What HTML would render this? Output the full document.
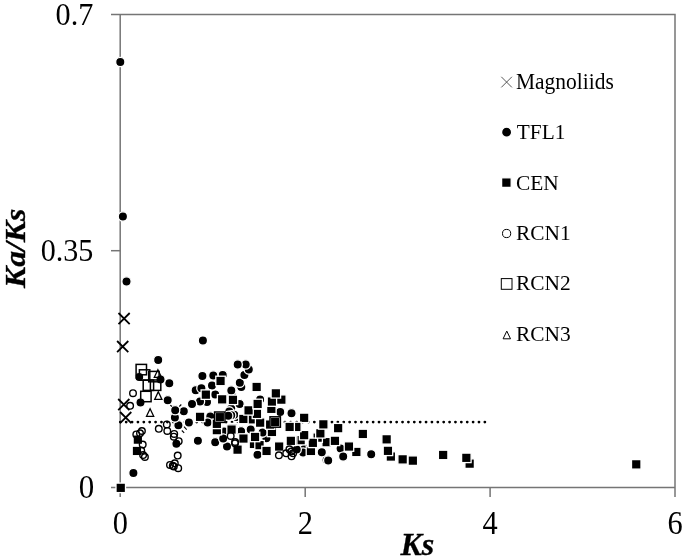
<!DOCTYPE html>
<html><head><meta charset="utf-8"><title>Ka/Ks vs Ks</title>
<style>
html,body{margin:0;padding:0;background:#fff;}
svg{display:block;font-family:"Liberation Serif",serif;}
</style></head><body>
<svg width="685" height="558" viewBox="0 0 685 558">
<rect width="685" height="558" fill="#fff"/>
<g stroke="#757575" stroke-width="1.5" fill="none">
<path d="M111 14.5H675V497"/>
<path d="M120.2 14.5V497"/>
<path d="M111 487.6H675"/>
<path d="M111 250.7H120.2"/>
<path d="M305.2 487.6V497M490.1 487.6V497"/>
</g>
<g font-size="29.5" fill="#000">
<text transform="translate(93.4,24.5) scale(1.025,1.09)" text-anchor="end">0.7</text>
<text transform="translate(93.3,261.2) scale(1.02,1.085)" text-anchor="end">0.35</text>
<text transform="translate(94.3,497.9) scale(1.05,1.115)" text-anchor="end">0</text>
<text transform="translate(120.3,534.2) scale(1.03,1.11)" text-anchor="middle">0</text>
<text transform="translate(305.3,534.2) scale(1.03,1.11)" text-anchor="middle">2</text>
<text transform="translate(490.2,534.2) scale(1.03,1.11)" text-anchor="middle">4</text>
<text transform="translate(675.2,534.2) scale(1.03,1.11)" text-anchor="middle">6</text>
</g>
<text x="417.3" y="554.8" stroke="#000" stroke-width="0.3" font-size="32" font-weight="bold" font-style="italic" text-anchor="middle">Ks</text>
<text transform="translate(24.6,248.3) rotate(-90) scale(0.99,0.9)" stroke="#000" stroke-width="0.4" font-size="32" font-weight="bold" font-style="italic" text-anchor="middle">Ka/Ks</text>
<path d="M120.3 422.1H486" stroke="#000" stroke-width="2.8" stroke-linecap="round" stroke-dasharray="0 5.88" fill="none"/>

<g font-size="21.3" fill="#000">
<text transform="translate(516,88.9) scale(1.008,1.04)">Magnoliids</text>
<text transform="translate(516.8,139.4) scale(1,1.03)">TFL1</text>
<text transform="translate(516,189.5) scale(1.005,1.03)">CEN</text>
<text transform="translate(516,239.9) scale(1.005,1.02)">RCN1</text>
<text transform="translate(516,290.4) scale(1.005,1.0)">RCN2</text>
<text transform="translate(516,341) scale(1.005,1.0)">RCN3</text>
</g>

<path d="M501.3 76.8L511.9 87.4M501.3 87.4L511.9 76.8" stroke="#444" stroke-width="0.9" fill="none"/>
<circle cx="506.6" cy="132.2" r="5.05" fill="#000" stroke="#fff" stroke-width="1.3"/>
<rect x="501.6" y="177.8" width="9.6" height="9.6" fill="#000" stroke="#fff" stroke-width="1.3"/>
<circle cx="506.6" cy="233.5" r="4.1" fill="none" stroke="#000" stroke-width="1.0"/>
<rect x="501.3" y="278.6" width="10.7" height="10.7" fill="none" stroke="#000" stroke-width="1.0"/>
<path d="M506.8 331.1L510.5 338.8H503.1Z" fill="none" stroke="#000" stroke-width="1.0"/>
<path d="M118.5 313.0L129.7 324.2M118.5 324.2L129.7 313.0" stroke="#000" stroke-width="1.8" fill="none"/>
<path d="M117.1 341.0L128.3 352.2M117.1 352.2L128.3 341.0" stroke="#000" stroke-width="1.8" fill="none"/>
<path d="M118.2 399.0L129.4 410.2M118.2 410.2L129.4 399.0" stroke="#000" stroke-width="1.8" fill="none"/>
<path d="M120.1 412.0L131.3 423.2M120.1 423.2L131.3 412.0" stroke="#000" stroke-width="1.8" fill="none"/>
<circle cx="231.6" cy="394.0" r="4.65" fill="#000" stroke="#fff" stroke-width="1.3"/>
<circle cx="231.2" cy="408.6" r="4.65" fill="#000" stroke="#fff" stroke-width="1.3"/>
<circle cx="229.3" cy="411.4" r="4.65" fill="#000" stroke="#fff" stroke-width="1.3"/>
<circle cx="236.5" cy="417.0" r="4.65" fill="#000" stroke="#fff" stroke-width="1.3"/>
<circle cx="234.2" cy="414.8" r="4.65" fill="#000" stroke="#fff" stroke-width="1.3"/>
<circle cx="231.2" cy="415.3" r="4.65" fill="#000" stroke="#fff" stroke-width="1.3"/>
<circle cx="228.3" cy="415.8" r="4.65" fill="#000" stroke="#fff" stroke-width="1.3"/>
<circle cx="266.1" cy="437.6" r="4.65" fill="#000" stroke="#fff" stroke-width="1.3"/>
<circle cx="263.2" cy="432.9" r="4.65" fill="#000" stroke="#fff" stroke-width="1.3"/>
<circle cx="223.5" cy="438.8" r="4.65" fill="#000" stroke="#fff" stroke-width="1.3"/>
<circle cx="304.4" cy="449.0" r="4.65" fill="#000" stroke="#fff" stroke-width="1.3"/>
<circle cx="371.2" cy="454.3" r="4.65" fill="#000" stroke="#fff" stroke-width="1.3"/>
<circle cx="340.6" cy="448.4" r="4.65" fill="#000" stroke="#fff" stroke-width="1.3"/>
<circle cx="343.2" cy="456.6" r="4.65" fill="#000" stroke="#fff" stroke-width="1.3"/>
<circle cx="326.6" cy="460.0" r="4.65" fill="#000" stroke="#fff" stroke-width="1.3"/>
<circle cx="328.2" cy="460.5" r="4.65" fill="#000" stroke="#fff" stroke-width="1.3"/>
<circle cx="321.8" cy="452.3" r="4.65" fill="#000" stroke="#fff" stroke-width="1.3"/>
<circle cx="303.1" cy="452.5" r="4.65" fill="#000" stroke="#fff" stroke-width="1.3"/>
<circle cx="296.7" cy="449.4" r="4.65" fill="#000" stroke="#fff" stroke-width="1.3"/>
<circle cx="266.4" cy="438.3" r="4.65" fill="#000" stroke="#fff" stroke-width="1.3"/>
<circle cx="257.5" cy="454.8" r="4.65" fill="#000" stroke="#fff" stroke-width="1.3"/>
<circle cx="250.7" cy="429.5" r="4.65" fill="#000" stroke="#fff" stroke-width="1.3"/>
<circle cx="241.1" cy="431.2" r="4.65" fill="#000" stroke="#fff" stroke-width="1.3"/>
<circle cx="262.6" cy="432.6" r="4.65" fill="#000" stroke="#fff" stroke-width="1.3"/>
<circle cx="280.2" cy="411.9" r="4.65" fill="#000" stroke="#fff" stroke-width="1.3"/>
<circle cx="291.5" cy="413.2" r="4.65" fill="#000" stroke="#fff" stroke-width="1.3"/>
<circle cx="231.3" cy="390.5" r="4.65" fill="#000" stroke="#fff" stroke-width="1.3"/>
<circle cx="239.6" cy="404.0" r="4.65" fill="#000" stroke="#fff" stroke-width="1.3"/>
<circle cx="260.1" cy="399.6" r="4.65" fill="#000" stroke="#fff" stroke-width="1.3"/>
<circle cx="241.3" cy="387.0" r="4.65" fill="#000" stroke="#fff" stroke-width="1.3"/>
<circle cx="239.8" cy="382.7" r="4.65" fill="#000" stroke="#fff" stroke-width="1.3"/>
<circle cx="244.4" cy="375.1" r="4.65" fill="#000" stroke="#fff" stroke-width="1.3"/>
<circle cx="248.8" cy="369.5" r="4.65" fill="#000" stroke="#fff" stroke-width="1.3"/>
<circle cx="245.7" cy="364.5" r="4.65" fill="#000" stroke="#fff" stroke-width="1.3"/>
<circle cx="224.1" cy="431.4" r="4.65" fill="#000" stroke="#fff" stroke-width="1.3"/>
<circle cx="227.0" cy="446.4" r="4.65" fill="#000" stroke="#fff" stroke-width="1.3"/>
<circle cx="215.2" cy="442.2" r="4.65" fill="#000" stroke="#fff" stroke-width="1.3"/>
<circle cx="223.2" cy="438.6" r="4.65" fill="#000" stroke="#fff" stroke-width="1.3"/>
<circle cx="210.3" cy="416.5" r="4.65" fill="#000" stroke="#fff" stroke-width="1.3"/>
<circle cx="207.6" cy="422.6" r="4.65" fill="#000" stroke="#fff" stroke-width="1.3"/>
<circle cx="197.9" cy="440.8" r="4.65" fill="#000" stroke="#fff" stroke-width="1.3"/>
<circle cx="188.9" cy="422.6" r="4.65" fill="#000" stroke="#fff" stroke-width="1.3"/>
<circle cx="183.8" cy="411.3" r="4.65" fill="#000" stroke="#fff" stroke-width="1.3"/>
<circle cx="207.0" cy="402.1" r="4.65" fill="#000" stroke="#fff" stroke-width="1.3"/>
<circle cx="200.0" cy="401.5" r="4.65" fill="#000" stroke="#fff" stroke-width="1.3"/>
<circle cx="192.0" cy="404.0" r="4.65" fill="#000" stroke="#fff" stroke-width="1.3"/>
<circle cx="215.2" cy="394.6" r="4.65" fill="#000" stroke="#fff" stroke-width="1.3"/>
<circle cx="195.7" cy="390.2" r="4.65" fill="#000" stroke="#fff" stroke-width="1.3"/>
<circle cx="201.4" cy="388.3" r="4.65" fill="#000" stroke="#fff" stroke-width="1.3"/>
<circle cx="212.0" cy="385.4" r="4.65" fill="#000" stroke="#fff" stroke-width="1.3"/>
<circle cx="222.7" cy="374.9" r="4.65" fill="#000" stroke="#fff" stroke-width="1.3"/>
<circle cx="213.3" cy="375.5" r="4.65" fill="#000" stroke="#fff" stroke-width="1.3"/>
<circle cx="202.4" cy="376.1" r="4.65" fill="#000" stroke="#fff" stroke-width="1.3"/>
<circle cx="237.7" cy="364.5" r="4.65" fill="#000" stroke="#fff" stroke-width="1.3"/>
<circle cx="202.9" cy="340.6" r="4.65" fill="#000" stroke="#fff" stroke-width="1.3"/>
<circle cx="133.4" cy="473.1" r="4.65" fill="#000" stroke="#fff" stroke-width="1.3"/>
<circle cx="176.4" cy="443.7" r="4.65" fill="#000" stroke="#fff" stroke-width="1.3"/>
<circle cx="178.4" cy="425.2" r="4.65" fill="#000" stroke="#fff" stroke-width="1.3"/>
<circle cx="174.9" cy="417.6" r="4.65" fill="#000" stroke="#fff" stroke-width="1.3"/>
<circle cx="175.2" cy="410.2" r="4.65" fill="#000" stroke="#fff" stroke-width="1.3"/>
<circle cx="167.7" cy="400.2" r="4.65" fill="#000" stroke="#fff" stroke-width="1.3"/>
<circle cx="140.5" cy="402.4" r="4.65" fill="#000" stroke="#fff" stroke-width="1.3"/>
<circle cx="169.3" cy="383.3" r="4.65" fill="#000" stroke="#fff" stroke-width="1.3"/>
<circle cx="160.5" cy="379.4" r="4.65" fill="#000" stroke="#fff" stroke-width="1.3"/>
<circle cx="139.2" cy="377.0" r="4.65" fill="#000" stroke="#fff" stroke-width="1.3"/>
<circle cx="158.2" cy="359.9" r="4.65" fill="#000" stroke="#fff" stroke-width="1.3"/>
<circle cx="126.5" cy="281.5" r="4.65" fill="#000" stroke="#fff" stroke-width="1.3"/>
<circle cx="122.9" cy="216.5" r="4.65" fill="#000" stroke="#fff" stroke-width="1.3"/>
<circle cx="120.3" cy="62.0" r="4.65" fill="#000" stroke="#fff" stroke-width="1.3"/>
<rect x="631.5" y="459.6" width="9.5" height="9.5" fill="#000" stroke="#fff" stroke-width="1.3"/>
<rect x="464.9" y="458.9" width="9.5" height="9.5" fill="#000" stroke="#fff" stroke-width="1.3"/>
<rect x="461.6" y="453.1" width="9.5" height="9.5" fill="#000" stroke="#fff" stroke-width="1.3"/>
<rect x="438.4" y="450.2" width="9.5" height="9.5" fill="#000" stroke="#fff" stroke-width="1.3"/>
<rect x="408.1" y="455.9" width="9.5" height="9.5" fill="#000" stroke="#fff" stroke-width="1.3"/>
<rect x="397.9" y="454.6" width="9.5" height="9.5" fill="#000" stroke="#fff" stroke-width="1.3"/>
<rect x="386.1" y="451.8" width="9.5" height="9.5" fill="#000" stroke="#fff" stroke-width="1.3"/>
<rect x="383.2" y="446.1" width="9.5" height="9.5" fill="#000" stroke="#fff" stroke-width="1.3"/>
<rect x="381.9" y="434.6" width="9.5" height="9.5" fill="#000" stroke="#fff" stroke-width="1.3"/>
<rect x="306.2" y="446.2" width="9.5" height="9.5" fill="#000" stroke="#fff" stroke-width="1.3"/>
<rect x="351.6" y="447.2" width="9.5" height="9.5" fill="#000" stroke="#fff" stroke-width="1.3"/>
<rect x="358.1" y="429.2" width="9.5" height="9.5" fill="#000" stroke="#fff" stroke-width="1.3"/>
<rect x="321.9" y="437.4" width="9.5" height="9.5" fill="#000" stroke="#fff" stroke-width="1.3"/>
<rect x="312.9" y="432.9" width="9.5" height="9.5" fill="#000" stroke="#fff" stroke-width="1.3"/>
<rect x="295.9" y="435.4" width="9.5" height="9.5" fill="#000" stroke="#fff" stroke-width="1.3"/>
<rect x="308.1" y="438.1" width="9.5" height="9.5" fill="#000" stroke="#fff" stroke-width="1.3"/>
<rect x="344.2" y="441.8" width="9.5" height="9.5" fill="#000" stroke="#fff" stroke-width="1.3"/>
<rect x="330.2" y="436.1" width="9.5" height="9.5" fill="#000" stroke="#fff" stroke-width="1.3"/>
<rect x="287.4" y="435.8" width="9.5" height="9.5" fill="#000" stroke="#fff" stroke-width="1.3"/>
<rect x="315.6" y="428.6" width="9.5" height="9.5" fill="#000" stroke="#fff" stroke-width="1.3"/>
<rect x="299.4" y="430.4" width="9.5" height="9.5" fill="#000" stroke="#fff" stroke-width="1.3"/>
<rect x="286.6" y="422.6" width="9.5" height="9.5" fill="#000" stroke="#fff" stroke-width="1.3"/>
<rect x="333.4" y="423.4" width="9.5" height="9.5" fill="#000" stroke="#fff" stroke-width="1.3"/>
<rect x="318.6" y="419.6" width="9.5" height="9.5" fill="#000" stroke="#fff" stroke-width="1.3"/>
<rect x="299.4" y="413.1" width="9.5" height="9.5" fill="#000" stroke="#fff" stroke-width="1.3"/>
<rect x="249.2" y="439.2" width="9.5" height="9.5" fill="#000" stroke="#fff" stroke-width="1.3"/>
<rect x="247.8" y="414.6" width="9.5" height="9.5" fill="#000" stroke="#fff" stroke-width="1.3"/>
<rect x="254.8" y="440.4" width="9.5" height="9.5" fill="#000" stroke="#fff" stroke-width="1.3"/>
<rect x="261.8" y="446.2" width="9.5" height="9.5" fill="#000" stroke="#fff" stroke-width="1.3"/>
<rect x="274.4" y="441.8" width="9.5" height="9.5" fill="#000" stroke="#fff" stroke-width="1.3"/>
<rect x="286.1" y="436.1" width="9.5" height="9.5" fill="#000" stroke="#fff" stroke-width="1.3"/>
<rect x="250.3" y="432.2" width="9.5" height="9.5" fill="#000" stroke="#fff" stroke-width="1.3"/>
<rect x="238.7" y="433.8" width="9.5" height="9.5" fill="#000" stroke="#fff" stroke-width="1.3"/>
<rect x="267.2" y="427.2" width="9.5" height="9.5" fill="#000" stroke="#fff" stroke-width="1.3"/>
<rect x="227.8" y="423.4" width="9.5" height="9.5" fill="#000" stroke="#fff" stroke-width="1.3"/>
<rect x="291.6" y="422.2" width="9.5" height="9.5" fill="#000" stroke="#fff" stroke-width="1.3"/>
<rect x="284.9" y="422.2" width="9.5" height="9.5" fill="#000" stroke="#fff" stroke-width="1.3"/>
<rect x="265.4" y="419.8" width="9.5" height="9.5" fill="#000" stroke="#fff" stroke-width="1.3"/>
<rect x="270.4" y="417.2" width="9.5" height="9.5" fill="#000" stroke="#fff" stroke-width="1.3"/>
<rect x="255.4" y="417.9" width="9.5" height="9.5" fill="#000" stroke="#fff" stroke-width="1.3"/>
<rect x="252.2" y="409.1" width="9.5" height="9.5" fill="#000" stroke="#fff" stroke-width="1.3"/>
<rect x="238.6" y="414.2" width="9.5" height="9.5" fill="#000" stroke="#fff" stroke-width="1.3"/>
<rect x="243.8" y="405.6" width="9.5" height="9.5" fill="#000" stroke="#fff" stroke-width="1.3"/>
<rect x="266.6" y="404.1" width="9.5" height="9.5" fill="#000" stroke="#fff" stroke-width="1.3"/>
<rect x="252.9" y="399.2" width="9.5" height="9.5" fill="#000" stroke="#fff" stroke-width="1.3"/>
<rect x="267.2" y="396.8" width="9.5" height="9.5" fill="#000" stroke="#fff" stroke-width="1.3"/>
<rect x="276.6" y="394.9" width="9.5" height="9.5" fill="#000" stroke="#fff" stroke-width="1.3"/>
<rect x="271.1" y="388.6" width="9.5" height="9.5" fill="#000" stroke="#fff" stroke-width="1.3"/>
<rect x="251.9" y="382.2" width="9.5" height="9.5" fill="#000" stroke="#fff" stroke-width="1.3"/>
<rect x="232.8" y="444.9" width="9.5" height="9.5" fill="#000" stroke="#fff" stroke-width="1.3"/>
<rect x="226.8" y="424.8" width="9.5" height="9.5" fill="#000" stroke="#fff" stroke-width="1.3"/>
<rect x="212.1" y="425.4" width="9.5" height="9.5" fill="#000" stroke="#fff" stroke-width="1.3"/>
<rect x="212.1" y="419.1" width="9.5" height="9.5" fill="#000" stroke="#fff" stroke-width="1.3"/>
<rect x="215.1" y="412.4" width="9.5" height="9.5" fill="#000" stroke="#fff" stroke-width="1.3"/>
<rect x="195.3" y="412.1" width="9.5" height="9.5" fill="#000" stroke="#fff" stroke-width="1.3"/>
<rect x="228.2" y="395.1" width="9.5" height="9.5" fill="#000" stroke="#fff" stroke-width="1.3"/>
<rect x="217.4" y="394.6" width="9.5" height="9.5" fill="#000" stroke="#fff" stroke-width="1.3"/>
<rect x="201.1" y="389.9" width="9.5" height="9.5" fill="#000" stroke="#fff" stroke-width="1.3"/>
<rect x="215.8" y="376.2" width="9.5" height="9.5" fill="#000" stroke="#fff" stroke-width="1.3"/>
<rect x="132.2" y="446.2" width="9.5" height="9.5" fill="#000" stroke="#fff" stroke-width="1.3"/>
<rect x="133.1" y="434.9" width="9.5" height="9.5" fill="#000" stroke="#fff" stroke-width="1.3"/>
<rect x="116.0" y="483.1" width="9.5" height="9.5" fill="#000" stroke="#fff" stroke-width="1.3"/>
<circle cx="291.3" cy="451.5" r="3.3" fill="none" stroke="#000" stroke-width="1.4"/>
<circle cx="293.1" cy="453.3" r="3.3" fill="none" stroke="#000" stroke-width="1.4"/>
<circle cx="291.5" cy="456.3" r="3.3" fill="none" stroke="#000" stroke-width="1.4"/>
<circle cx="286.2" cy="453.3" r="3.3" fill="none" stroke="#000" stroke-width="1.4"/>
<circle cx="289.4" cy="449.3" r="3.3" fill="none" stroke="#000" stroke-width="1.4"/>
<circle cx="278.9" cy="455.3" r="3.3" fill="none" stroke="#000" stroke-width="1.4"/>
<circle cx="235.0" cy="443.3" r="3.3" fill="none" stroke="#000" stroke-width="1.4"/>
<circle cx="235.1" cy="442.0" r="3.3" fill="none" stroke="#000" stroke-width="1.4"/>
<circle cx="230.7" cy="435.9" r="3.3" fill="none" stroke="#000" stroke-width="1.4"/>
<circle cx="173.8" cy="466.5" r="3.3" fill="none" stroke="#000" stroke-width="1.4"/>
<circle cx="174.8" cy="463.3" r="3.3" fill="none" stroke="#000" stroke-width="1.4"/>
<circle cx="178.2" cy="468.2" r="3.3" fill="none" stroke="#000" stroke-width="1.4"/>
<circle cx="172.8" cy="465.8" r="3.3" fill="none" stroke="#000" stroke-width="1.4"/>
<circle cx="170.0" cy="464.9" r="3.3" fill="none" stroke="#000" stroke-width="1.4"/>
<circle cx="177.7" cy="455.6" r="3.3" fill="none" stroke="#000" stroke-width="1.4"/>
<circle cx="178.7" cy="441.2" r="3.3" fill="none" stroke="#000" stroke-width="1.4"/>
<circle cx="173.8" cy="436.7" r="3.3" fill="none" stroke="#000" stroke-width="1.4"/>
<circle cx="174.2" cy="433.9" r="3.3" fill="none" stroke="#000" stroke-width="1.4"/>
<circle cx="167.3" cy="430.9" r="3.3" fill="none" stroke="#000" stroke-width="1.4"/>
<circle cx="166.8" cy="424.4" r="3.3" fill="none" stroke="#000" stroke-width="1.4"/>
<circle cx="158.8" cy="428.8" r="3.3" fill="none" stroke="#000" stroke-width="1.4"/>
<circle cx="144.9" cy="457.0" r="3.3" fill="none" stroke="#000" stroke-width="1.4"/>
<circle cx="143.1" cy="455.1" r="3.3" fill="none" stroke="#000" stroke-width="1.4"/>
<circle cx="141.2" cy="450.6" r="3.3" fill="none" stroke="#000" stroke-width="1.4"/>
<circle cx="142.7" cy="444.6" r="3.3" fill="none" stroke="#000" stroke-width="1.4"/>
<circle cx="136.3" cy="434.4" r="3.3" fill="none" stroke="#000" stroke-width="1.4"/>
<circle cx="140.0" cy="433.3" r="3.3" fill="none" stroke="#000" stroke-width="1.4"/>
<circle cx="141.9" cy="431.0" r="3.3" fill="none" stroke="#000" stroke-width="1.4"/>
<circle cx="130.1" cy="405.8" r="3.3" fill="none" stroke="#000" stroke-width="1.4"/>
<circle cx="133.0" cy="393.2" r="3.3" fill="none" stroke="#000" stroke-width="1.4"/>
<rect x="270.0" y="416.8" width="10.4" height="10.4" fill="none" stroke="#000" stroke-width="1.5"/>
<rect x="214.6" y="412.0" width="10.4" height="10.4" fill="none" stroke="#000" stroke-width="1.5"/>
<rect x="140.7" y="391.3" width="10.4" height="10.4" fill="none" stroke="#000" stroke-width="1.5"/>
<rect x="150.4" y="380.0" width="10.4" height="10.4" fill="none" stroke="#000" stroke-width="1.5"/>
<rect x="143.2" y="380.0" width="10.4" height="10.4" fill="none" stroke="#000" stroke-width="1.5"/>
<rect x="148.7" y="371.4" width="10.4" height="10.4" fill="none" stroke="#000" stroke-width="1.5"/>
<rect x="139.4" y="369.8" width="10.4" height="10.4" fill="none" stroke="#000" stroke-width="1.5"/>
<rect x="136.1" y="364.4" width="10.4" height="10.4" fill="none" stroke="#000" stroke-width="1.5"/>
<path d="M157.9 369.7L161.5 377.3H154.3Z" fill="none" stroke="#000" stroke-width="1.3"/>
<path d="M158.3 391.8L161.9 399.4H154.7Z" fill="none" stroke="#000" stroke-width="1.3"/>
<path d="M150.1 408.7L153.7 416.3H146.5Z" fill="none" stroke="#000" stroke-width="1.3"/>
<path d="M179.3 406.5L181.3 404.5M170.3 405.2L172.1 406.5M184 426.7L186.7 429.6M181.8 430.5L184.2 432.9" stroke="#000" stroke-width="1.1" fill="none"/>
</svg></body></html>
